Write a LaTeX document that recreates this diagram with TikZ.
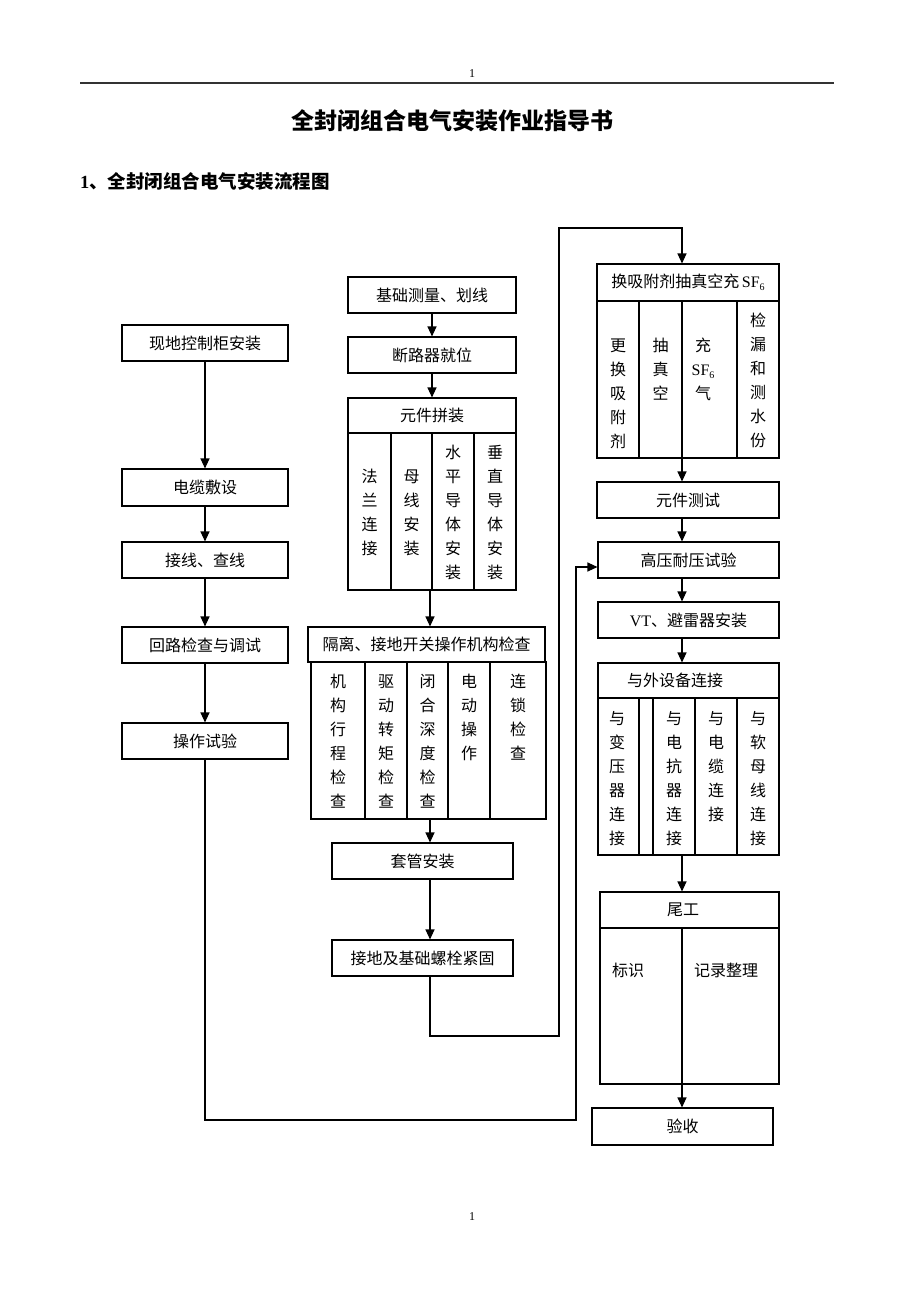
\documentclass[tikz,border=0pt]{standalone}
\usepackage{fontspec}
\setmainfont{Liberation Serif}
\newfontfamily\cjk{Noto Sans CJK SC}
\newfontfamily\lat{Liberation Serif}
\usetikzlibrary{arrows.meta,calc}
\newcommand{\subsix}{\raisebox{-2.5pt}{\fontsize{10}{10}\selectfont 6}}
\begin{document}
\begin{tikzpicture}[x=1pt,y=-1pt,
  box/.style={draw, line width=1.1pt, inner sep=0pt, font=\cjk\fontsize{16}{24}\selectfont},
  colbox/.style={draw, line width=1.1pt, inner sep=0pt},
  lbl/.style={inner sep=0pt, font=\cjk\fontsize{16}{24}\selectfont},
  vtxt/.style={lbl, align=center, anchor=north},
  ln/.style={line width=1.1pt},
  arr/.style={line width=1.1pt, -{Triangle[length=10pt,width=9pt]}}]
\fill[white] (0,0) rectangle (920,1302);
\useasboundingbox (0,0) rectangle (920,1302);

% header
\draw[line width=1.2pt, black!80] (80,83) coordinate (hl) -- (834,83) coordinate (hr);
\node[inner sep=0pt, font=\lat\fontsize{12}{14}\selectfont] (pg1) at (472,74) {1};
\node[inner sep=0pt, font=\lat\fontsize{12}{14}\selectfont] (pg2) at (472,1217) {1};
\node[inner sep=0pt, font=\cjk\bfseries\fontsize{23}{28}\selectfont] (title) at (452,121) {全封闭组合电气安装作业指导书};
\node[inner sep=0pt, anchor=west] (sub) at (80,181) {{\lat\bfseries\fontsize{18.5}{22}\selectfont 1}{\cjk\bfseries\fontsize{18.5}{22}\selectfont 、全封闭组合电气安装流程图}};

% helper coordinates
\coordinate (xm) at (430,0);
\coordinate (xr) at (682,0);

% left column
\node[box, minimum width=166, minimum height=36] (a1) at (205,343) {现地控制柜安装};
\node[box, minimum width=166, minimum height=37] (a2) at (205,487.5) {电缆敷设};
\node[box, minimum width=166, minimum height=36] (a3) at (205,560) {接线、查线};
\node[box, minimum width=166, minimum height=36] (a4) at (205,645) {回路检查与调试};
\node[box, minimum width=166, minimum height=36] (a5) at (205,741) {操作试验};
\draw[arr] (a1) -- (a2);
\draw[arr] (a2) -- (a3);
\draw[arr] (a3) -- (a4);
\draw[arr] (a4) -- (a5);

% middle column
\node[box, minimum width=168, minimum height=36] (b1) at (432,295) {基础测量、划线};
\node[box, minimum width=168, minimum height=36] (b2) at (432,355) {断路器就位};
\node[box, minimum width=168, minimum height=35] (b3h) at (432,415.5) {元件拼装};
\node[colbox, minimum width=43, minimum height=157] (b3k1) at (369.5,511.5) {};
\node[colbox, minimum width=41, minimum height=157] (b3k2) at (411.5,511.5) {};
\node[colbox, minimum width=42, minimum height=157] (b3k3) at (453,511.5) {};
\node[colbox, minimum width=42, minimum height=157] (b3k4) at (495,511.5) {};
\node[vtxt] (b3t1) at (369.5,469.25) {法\\兰\\连\\接};
\node[vtxt] (b3t2) at (411.5,469.25) {母\\线\\安\\装};
\node[vtxt] (b3t3) at (453,445.25) {水\\平\\导\\体\\安\\装};
\node[vtxt] (b3t4) at (495,445.25) {垂\\直\\导\\体\\安\\装};

\node[box, minimum width=237, minimum height=35] (b4h) at (426.5,644.5) {隔离、接地开关操作机构检查};
\node[colbox, minimum width=54, minimum height=157] (b4k1) at (338,740.5) {};
\node[colbox, minimum width=42, minimum height=157] (b4k2) at (386,740.5) {};
\node[colbox, minimum width=41, minimum height=157] (b4k3) at (427.5,740.5) {};
\node[colbox, minimum width=42, minimum height=157] (b4k4) at (469,740.5) {};
\node[colbox, minimum width=56, minimum height=157] (b4k5) at (518,740.5) {};
\node[vtxt] (b4t1) at (338,674.25) {机\\构\\行\\程\\检\\查};
\node[vtxt] (b4t2) at (386,674.25) {驱\\动\\转\\矩\\检\\查};
\node[vtxt] (b4t3) at (427.5,674.25) {闭\\合\\深\\度\\检\\查};
\node[vtxt] (b4t4) at (469,674.25) {电\\动\\操\\作};
\node[vtxt] (b4t5) at (518,674.25) {连\\锁\\检\\查};

\node[box, minimum width=181, minimum height=36] (b5) at (422.5,861) {套管安装};
\node[box, minimum width=181, minimum height=36] (b6) at (422.5,958) {接地及基础螺栓紧固};

\draw[arr] (b1) -- (b2);
\draw[arr] (b2) -- (b3h);
\draw[arr] (xm |- b3k2.south) -- (xm |- b4h.north);
\draw[arr] (xm |- b4k3.south) -- (xm |- b5.north);
\draw[arr] (xm |- b5.south) -- (xm |- b6.north);

% right column
\node[box, minimum width=182, minimum height=37] (c1h) at (688,282.5) {换吸附剂抽真空充\,{\lat SF\subsix}};
\node[colbox, minimum width=42, minimum height=157] (c1k1) at (618,379.5) {};
\node[colbox, minimum width=43, minimum height=157] (c1k2) at (660.5,379.5) {};
\node[colbox, minimum width=55, minimum height=157] (c1k3) at (709.5,379.5) {};
\node[colbox, minimum width=42, minimum height=157] (c1k4) at (758,379.5) {};
\node[vtxt] (c1t1) at (618,338.25) {更\\换\\吸\\附\\剂};
\node[vtxt] (c1t2) at (660.5,338.25) {抽\\真\\空};
\node[vtxt] (c1t3) at (703,338.25) {充\\{\lat SF\subsix}\\气};
\node[vtxt] (c1t4) at (758,312.25) {检\\漏\\和\\测\\水\\份};

\node[box, minimum width=182, minimum height=36] (c2) at (688,500) {元件测试};
\node[box, minimum width=181, minimum height=36] (c3) at (688.5,560) {高压耐压试验};
\node[box, minimum width=181, minimum height=36] (c4) at (688.5,620) {{\lat VT}、避雷器安装};
\node[box, minimum width=181, minimum height=35] (c5h) at (688.5,680.5) {与外设备连接\hspace*{27pt}};
\node[colbox, minimum width=41, minimum height=157] (c5k1) at (618.5,776.5) {};
\node[colbox, minimum width=14, minimum height=157] (c5k2) at (646,776.5) {};
\node[colbox, minimum width=42, minimum height=157] (c5k3) at (674,776.5) {};
\node[colbox, minimum width=42, minimum height=157] (c5k4) at (716,776.5) {};
\node[colbox, minimum width=42, minimum height=157] (c5k5) at (758,776.5) {};
\node[vtxt] (c5t1) at (617,711.25) {与\\变\\压\\器\\连\\接};
\node[vtxt] (c5t2) at (674,711.25) {与\\电\\抗\\器\\连\\接};
\node[vtxt] (c5t3) at (716,711.25) {与\\电\\缆\\连\\接};
\node[vtxt] (c5t4) at (758,711.25) {与\\软\\母\\线\\连\\接};

\node[box, minimum width=179, minimum height=36] (c6h) at (689.5,910) {尾工\hspace*{13pt}};
\node[colbox, minimum width=179, minimum height=156] (c6b) at (689.5,1006) {};
\node[lbl] (c6t1) at (628,970) {标识};
\node[lbl] (c6t2) at (726,970) {记录整理};
\node[box, minimum width=181, minimum height=37] (c7) at (682.5,1126.5) {验收};

\draw[arr] (xr |- c1k2.south) -- (xr |- c2.north);
\draw[arr] (xr |- c2.south) -- (xr |- c3.north);
\draw[arr] (xr |- c3.south) -- (xr |- c4.north);
\draw[arr] (xr |- c4.south) -- (xr |- c5h.north);
\draw[arr] (xr |- c5k3.south) -- (xr |- c6h.north);
\draw[arr] (xr |- c6h.south) -- (xr |- c7.north);

% long connectors
\coordinate (lp1) at (559,1036);
\coordinate (lp2) at (559,228);
\draw[arr] (xm |- b6.south) |- (lp1) -- (lp2) -| (xr |- c1h.north);
\coordinate (lp3) at (576,1120);
\coordinate (lp4) at (576,567);
\draw[arr] (a5.south) |- (lp3) -- (lp4) -- (c3.west |- lp4);
\end{tikzpicture}
\end{document}
